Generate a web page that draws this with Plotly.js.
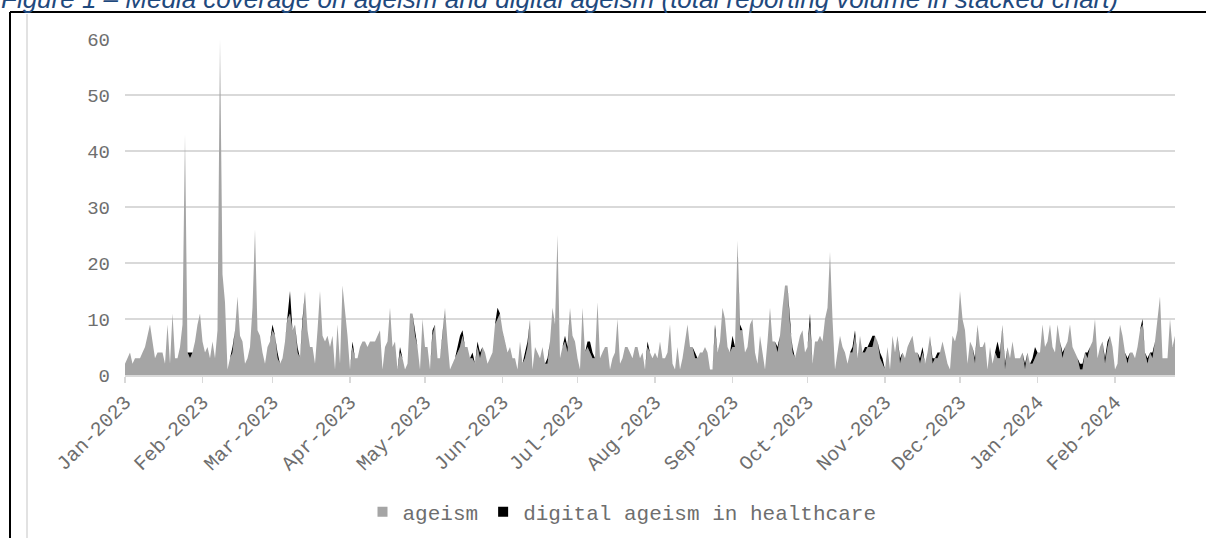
<!DOCTYPE html>
<html>
<head>
<meta charset="utf-8">
<script src="https://cdn.plot.ly/plotly-3.0.1.min.js"></script>
<style>
  html, body { margin: 0; padding: 0; background: #fff; }
  #chart { width: 1206px; height: 538px; }
</style>
</head>
<body>
<div id="chart"></div>
<script>
// ---- Data (daily article counts) ----
const startDate = '2023-01-01';

const ageism_2023_01 = [2,3,4,2,3,3,3,4,5,7, 9,6,3,4,4,4,2,9,2,11, 3,3,5,9,43,4,3,4,6,9, 11];
const ageism_2023_02 = [6,4,5,3,6,3,8,60,18,13, 1,3,4,8,14,7,6,2,3,5, 12,26,8,7,4,2,5,6];
const ageism_2023_03 = [8,7,3,2,3,6,10,11,8,9, 4,3,10,15,8,5,5,2,8,15, 7,6,7,5,7,1,9,2,16,12, 7];
const ageism_2023_04 = [1,5,3,3,5,6,6,5,6,6, 6,7,8,1,5,6,12,5,6,1, 4,3,1,2,11,11,7,5,1,10];
const ageism_2023_05 = [5,5,1,7,9,3,3,7,12,6, 1,2,3,4,5,7,5,5,3,3, 2,5,3,5,4,2,3,4,9,10, 11];
const ageism_2023_06 = [8,6,4,5,3,3,1,6,2,3, 5,10,1,5,4,3,5,2,2,6, 12,9,25,3,5,6,4,12,7,6];
const ageism_2023_07 = [3,1,12,4,5,4,3,3,13,3, 4,5,5,1,3,4,10,2,3,5, 5,4,3,5,5,3,4,1,5,4, 3];
const ageism_2023_08 = [4,3,6,3,3,4,9,2,1,5, 1,3,6,9,5,5,3,3,4,4, 5,4,1,1,8,4,6,12,10,5, 4];
const ageism_2023_09 = [5,5,24,8,8,4,5,9,10,4, 2,7,4,1,6,12,6,6,4,7, 12,16,16,9,4,3,5,7,8,4];
const ageism_2023_10 = [5,9,2,6,6,7,6,10,12,22, 10,1,4,7,5,4,2,4,4,7, 3,7,4,4,5,5,5,7,6,3, 2];
const ageism_2023_11 = [1,5,1,7,4,7,2,4,3,5, 6,7,4,4,2,4,2,4,7,2, 3,3,4,6,4,2,1,7,6,8];
const ageism_2023_12 = [15,10,8,2,6,5,2,9,5,5, 6,1,5,2,4,3,3,9,1,5, 3,6,3,3,3,4,1,4,2,2, 3];
const ageism_2024_01 = [4,4,9,5,6,9,5,4,9,6, 3,5,6,9,5,4,3,1,1,4, 3,5,6,10,3,5,6,2,5,7, 5];
const ageism_2024_02 = [1,2,9,7,4,2,4,4,3,5, 8,9,4,2,4,3,6,10,14,3, 3,3,10,5,7];

const digital_2023_01 = [0,0,0,0,0,0,0,0,0,0, 0,0,0,0,0,0,0,0,0,0, 0,0,0,0,0,0,1,0,0,0, 0];
const digital_2023_02 = [0,0,0,0,0,0,0,0,0,0, 0,0,1,0,0,0,0,0,0,0, 0,0,0,0,0,0,0,0];
const digital_2023_03 = [1,0,1,0,0,0,0,4,0,0, 1,0,0,0,0,0,0,0,0,0, 0,0,0,0,0,0,0,0,0,0, 0];
const digital_2023_04 = [0,1,0,0,0,0,0,0,0,0, 0,0,0,0,0,0,0,0,0,0, 1,0,0,0,0,0,1,0,0,0];
const digital_2023_05 = [0,0,0,1,0,0,0,1,0,0, 0,0,0,1,2,1,0,0,0,1, 0,1,1,0,0,0,0,0,0,2, 0];
const digital_2023_06 = [0,0,0,0,0,0,0,0,0,1, 1,0,0,0,0,0,0,0,1,0, 0,0,0,0,0,1,1,0,0,0];
const digital_2023_07 = [0,0,0,0,1,2,1,0,0,0, 0,0,0,0,0,0,0,0,0,0, 0,0,0,0,0,0,0,0,1,0, 0];
const digital_2023_08 = [0,0,0,0,0,0,0,0,0,0, 0,0,0,0,0,0,1,0,0,0, 0,0,0,0,1,0,0,0,0,0, 0];
const digital_2023_09 = [2,0,0,1,0,0,0,0,0,0, 0,0,0,0,0,0,0,0,1,0, 0,0,0,0,1,0,0,0,0,0];
const digital_2023_10 = [0,2,0,0,0,0,0,0,0,0, 0,0,0,0,0,0,0,0,1,1, 0,0,0,1,0,1,2,0,0,1, 1];
const digital_2023_11 = [0,0,0,0,0,0,1,0,0,0, 0,0,0,0,1,1,0,0,0,1, 0,1,0,0,0,0,0,0,0,0];
const digital_2023_12 = [0,0,0,0,0,0,1,0,0,0, 0,0,0,0,0,3,1,0,1,0, 0,0,0,0,0,0,1,0,0,1, 2];
const digital_2024_01 = [0,0,0,0,0,0,0,0,0,0, 1,0,0,0,0,0,0,1,1,0, 1,0,0,0,0,0,0,1,1,0, 0];
const digital_2024_02 = [0,0,0,0,0,1,0,0,0,0, 0,1,0,1,0,1,0,0,0,0, 0,0,0,0,0];

const seriesNames = ['ageism', 'digital ageism in healthcare'];
const tickFormat = '%b-%Y';

// ---- Build series ----
const ageism = [].concat(ageism_2023_01, ageism_2023_02, ageism_2023_03, ageism_2023_04,
  ageism_2023_05, ageism_2023_06, ageism_2023_07, ageism_2023_08, ageism_2023_09,
  ageism_2023_10, ageism_2023_11, ageism_2023_12, ageism_2024_01, ageism_2024_02);
const digital = [].concat(digital_2023_01, digital_2023_02, digital_2023_03, digital_2023_04,
  digital_2023_05, digital_2023_06, digital_2023_07, digital_2023_08, digital_2023_09,
  digital_2023_10, digital_2023_11, digital_2023_12, digital_2024_01, digital_2024_02);

const s = new Date(startDate + 'T00:00:00Z');
const dates = ageism.map((_, i) => {
  const d = new Date(s.getTime() + i * 86400000);
  return d.toISOString().slice(0, 10);
});

const GRAY = '#A5A5A5', BLACK = '#000000';
const FONT = 'Courier New, Liberation Mono, monospace';
const TXT = '#6E6E6E';

const traces = [
  { x: dates, y: ageism, name: seriesNames[0], type: 'scatter', mode: 'lines',
    stackgroup: 'one', line: { width: 0, color: GRAY }, fillcolor: GRAY,
    showlegend: false, legendgroup: 'a' },
  { x: dates, y: digital, name: seriesNames[1], type: 'scatter', mode: 'lines',
    stackgroup: 'one', line: { width: 0, color: BLACK }, fillcolor: BLACK,
    showlegend: false, legendgroup: 'd' },
  { x: [null], y: [null], name: seriesNames[0], type: 'scatter', mode: 'markers',
    marker: { symbol: 'square', size: 10, color: GRAY }, legendgroup: 'a' },
  { x: [null], y: [null], name: seriesNames[1], type: 'scatter', mode: 'markers',
    marker: { symbol: 'square', size: 10, color: BLACK }, legendgroup: 'd' }
];

// plot-area pixel geometry for placing decorations
const L = 125, R = 1175, T = 39, B = 375;
const px = x => (x - L) / (R - L);
const py = y => (B - y) / (B - T);

const layout = {
  width: 1206, height: 538,
  margin: { l: L, r: 1206 - R, t: T, b: 538 - B, pad: 0, autoexpand: false },
  paper_bgcolor: '#ffffff', plot_bgcolor: '#ffffff',
  showlegend: true,
  legend: {
    orientation: 'h', x: px(622), xanchor: 'center', y: py(512), yanchor: 'middle',
    font: { family: FONT, size: 21, color: TXT },
    itemwidth: 30, tracegroupgap: 0, bgcolor: 'rgba(0,0,0,0)'
  },
  xaxis: {
    type: 'date', range: [dates[0], dates[dates.length - 1]],
    tick0: startDate, dtick: 'M1', tickformat: tickFormat, tickangle: -45,
    ticks: 'outside', ticklen: 6, tickcolor: '#D9D9D9', tickwidth: 1.5,
    ticklabelstandoff: 0, automargin: false,
    showgrid: false, zeroline: false, showline: true, linecolor: '#D9D9D9', linewidth: 1.5,
    tickfont: { family: FONT, size: 20, color: TXT }
  },
  yaxis: {
    range: [0, 60], dtick: 10, tick0: 0, automargin: false,
    showgrid: true, gridcolor: '#D9D9D9', gridwidth: 2,
    zeroline: false, showline: false, ticks: '',
    ticklabelstandoff: 14,
    tickfont: { family: FONT, size: 19, color: TXT }
  },
  shapes: [
    { type: 'line', xref: 'paper', yref: 'paper', x0: px(10), x1: px(10), y0: py(12), y1: py(540),
      line: { color: '#000000', width: 2 } },
    { type: 'line', xref: 'paper', yref: 'paper', x0: px(10), x1: px(1210), y0: py(12), y1: py(12),
      line: { color: '#000000', width: 2 } },
    { type: 'line', xref: 'paper', yref: 'paper', x0: px(27), x1: px(27), y0: py(14), y1: py(540),
      line: { color: '#D9D9D9', width: 1.5 } }
  ],
  annotations: [
    { text: 'Figure 1 – Media coverage on ageism and digital ageism (total reporting volume in stacked chart)',
      xref: 'paper', yref: 'paper', x: px(-1), y: py(16), xanchor: 'left', yanchor: 'bottom',
      showarrow: false,
      font: { family: 'Liberation Sans, Arial, sans-serif', size: 26, color: '#1F497D', style: 'italic' } }
  ]
};

Plotly.newPlot('chart', traces, layout, { staticPlot: true, displayModeBar: false });
</script>
</body>
</html>
